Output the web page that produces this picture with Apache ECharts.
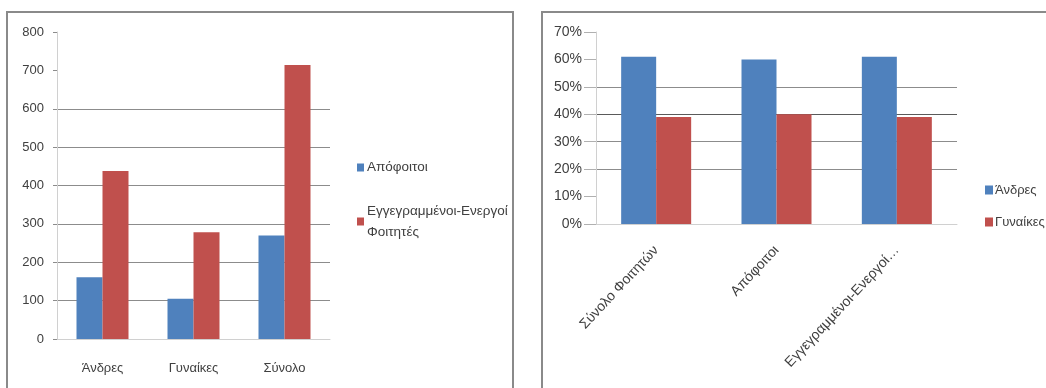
<!DOCTYPE html>
<html>
<head>
<meta charset="utf-8">
<script src="https://cdn.jsdelivr.net/npm/echarts@6/dist/echarts.min.js"></script>
<style>
html, body { margin: 0; padding: 0; background: #fff; }
#chart { width: 1046px; height: 388px; }
</style>
</head>
<body>
<div id="chart"></div>
<script>
// left chart: counts
const leftCats = ["Άνδρες", "Γυναίκες", "Σύνολο"];
const graduates = [161, 105, 270];
const enrolled = [438, 278, 714];
// right chart: percentages
const rightCats = ["Σύνολο Φοιτητών", "Απόφοιτοι", "Εγγεγραμμένοι-Ενεργοί Φοιτητές"];
const menPct = [61, 60, 61];
const womenPct = [39, 40, 39];

const BLUE = "#4F81BD";
const RED = "#C0504D";
const FONT = "'Liberation Sans', Arial, sans-serif";
const TXT = "#404040";
const GRID = "#8c8c8c";

const chart = echarts.init(document.getElementById("chart"));

const option = {
    backgroundColor: "#fff",
    animation: false,
    textStyle: { fontFamily: FONT, color: TXT },
    graphic: [
        { type: "rect", shape: { x: 7, y: 12, width: 506, height: 400 }, style: { fill: "none", stroke: "#8a8a8a", lineWidth: 2 } },
        { type: "rect", shape: { x: 542, y: 12, width: 520, height: 400 }, style: { fill: "none", stroke: "#8a8a8a", lineWidth: 2 } },
    ],
    grid: [
        { left: 57, top: 32, width: 273, height: 307 },
        { left: 596, top: 32, width: 361, height: 192 },
    ],
    legend: [
        {
            orient: "vertical",
            left: 352,
            top: 152,
            itemWidth: 7,
            itemHeight: 8,
            itemGap: 12,
            itemStyle: { borderWidth: 0 },
            icon: "rect",
            textStyle: { fontSize: 13.5, color: TXT, lineHeight: 21, fontFamily: FONT, padding: [0, 0, 0, -2] },
            formatter: name => name.replace(" ", "\n"),
            data: [
                { name: "Απόφοιτοι" },
                { name: "Εγγεγραμμένοι-Ενεργοί Φοιτητές", textStyle: { padding: [21, 0, 0, -2] } },
            ],
        },
        {
            orient: "vertical",
            left: 980,
            top: 175,
            itemWidth: 8,
            itemHeight: 9,
            itemGap: 12,
            icon: "rect",
            textStyle: { fontSize: 13, color: TXT, lineHeight: 20, fontFamily: FONT, padding: [0, 0, 0, -3] },
            data: ["Άνδρες", "Γυναίκες"],
        },
    ],
    xAxis: [
        {
            type: "category",
            gridIndex: 0,
            data: leftCats,
            axisLine: { lineStyle: { color: "#d0d0d0" } },
            axisTick: { length: 4, lineStyle: { color: "#c0c0c0" } },
            axisLabel: { fontSize: 13, color: TXT, margin: 23 },
        },
        {
            type: "category",
            gridIndex: 1,
            data: rightCats,
            axisLine: { lineStyle: { color: "#d0d0d0" } },
            axisTick: { length: 5, lineStyle: { color: "#c0c0c0" } },
            axisLabel: {
                fontSize: 14,
                color: TXT,
                rotate: 47,
                margin: 24,
                interval: 0,
                formatter: v => (v.length > 22 ? v.slice(0, 21) + "…" : v),
            },
        },
    ],
    yAxis: [
        {
            type: "value",
            gridIndex: 0,
            min: 0,
            max: 800,
            interval: 100,
            axisLine: { show: true, lineStyle: { color: "#d0d0d0" } },
            axisTick: { show: true, length: 4, lineStyle: { color: GRID } },
            axisLabel: { fontSize: 13, color: TXT, margin: 13 },
            splitLine: {
                lineStyle: {
                    color: ["transparent", GRID, GRID, GRID, GRID, GRID, GRID, "transparent", "transparent"],
                },
            },
        },
        {
            type: "value",
            gridIndex: 1,
            min: 0,
            max: 70,
            interval: 10,
            axisLine: { show: true, lineStyle: { color: "#d0d0d0" } },
            axisTick: { show: true, length: 12, lineStyle: { color: "#b0b0b0" } },
            axisLabel: { fontSize: 14, color: TXT, margin: 14, formatter: "{value}%" },
            splitLine: {
                lineStyle: {
                    color: ["transparent", "transparent", GRID, GRID, "#5a5a5a", GRID, "transparent", "transparent"],
                },
            },
        },
    ],
    series: [
        { name: "Απόφοιτοι", type: "bar", xAxisIndex: 0, yAxisIndex: 0, data: graduates, barWidth: 26, barGap: "0%", itemStyle: { color: BLUE } },
        { name: "Εγγεγραμμένοι-Ενεργοί Φοιτητές", type: "bar", xAxisIndex: 0, yAxisIndex: 0, data: enrolled, barWidth: 26, barGap: "0%", itemStyle: { color: RED } },
        { name: "Άνδρες", type: "bar", xAxisIndex: 1, yAxisIndex: 1, data: menPct, barWidth: 35, barGap: "0%", itemStyle: { color: BLUE } },
        { name: "Γυναίκες", type: "bar", xAxisIndex: 1, yAxisIndex: 1, data: womenPct, barWidth: 35, barGap: "0%", itemStyle: { color: RED } },
    ],
};

chart.setOption(option);
</script>
</body>
</html>
